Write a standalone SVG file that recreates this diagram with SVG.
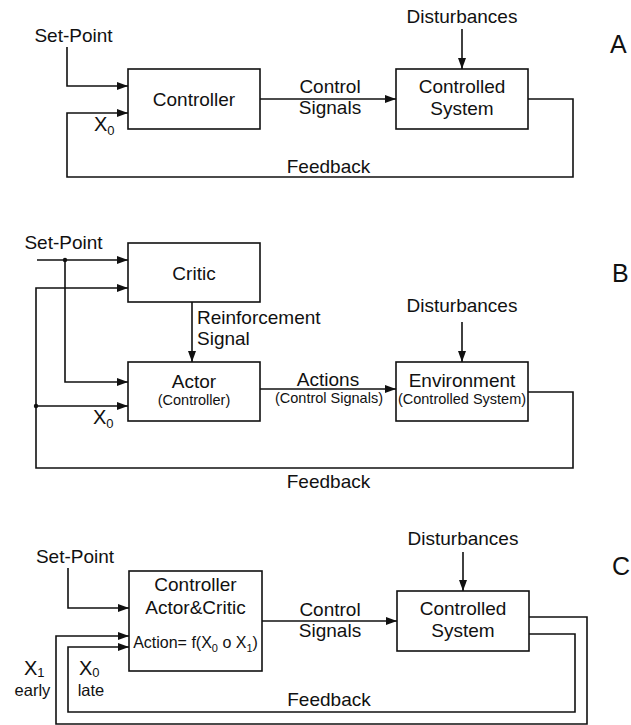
<svg xmlns="http://www.w3.org/2000/svg" width="631" height="725" viewBox="0 0 631 725">
<defs>
<marker id="ah" markerUnits="userSpaceOnUse" markerWidth="12" markerHeight="9" refX="11" refY="4" orient="auto">
<path d="M0,0 L11,4 L0,8 z" fill="#111"/>
</marker>
<style>
text{font-family:"Liberation Sans",Arial,Helvetica,sans-serif;fill:#111;font-size:19px}
.m{text-anchor:middle}
.s{font-size:14.5px}
.sub{font-size:13px}
.big{font-size:25px}
.x{font-size:20px}
rect{fill:#fff;stroke:#111;stroke-width:1.6}
.c line,.c polyline{fill:none;stroke:#111;stroke-width:1.6}
.a{marker-end:url(#ah)}
.dot{fill:#111}
</style>
</defs>
<rect x="0" y="0" width="631" height="725" style="fill:#fff;stroke:none"/>

<g class="c" id="connectors">
<!-- A -->
<polyline class="a" points="67,47 67,86 128,86"/>
<line class="a" x1="260" y1="99" x2="396" y2="99"/>
<line class="a" x1="462" y1="29" x2="462" y2="69"/>
<polyline class="a" points="528,99 573,99 573,177 67,177 67,113 128,113"/>
<!-- B -->
<line class="a" x1="37" y1="260" x2="128" y2="260"/>
<polyline class="a" points="65,260 65,382 128,382"/>
<polyline class="a" points="528,392 573,392 573,468 36,468 36,288 128,288"/>
<line class="a" x1="36" y1="406" x2="128" y2="406"/>
<line class="a" x1="192" y1="302" x2="192" y2="362"/>
<line class="a" x1="260" y1="389" x2="396" y2="389"/>
<line class="a" x1="462" y1="322" x2="462" y2="362"/>
<circle class="dot" cx="65" cy="260" r="2.2"/>
<circle class="dot" cx="36" cy="406" r="2.2"/>
<!-- C -->
<polyline class="a" points="68,568 68,608 129,608"/>
<line class="a" x1="262" y1="621" x2="397" y2="621"/>
<line class="a" x1="463" y1="552" x2="463" y2="591"/>
<polyline class="a" points="529,634 575,634 575,712 68,712 68,647 129,647"/>
<polyline class="a" points="529,617 587,617 587,724 56,724 56,636 129,636"/>
</g>

<!-- Panel A -->
<g id="A-controller"><rect x="128" y="69" width="132" height="60"/><text class="m" x="194" y="106">Controller</text></g>
<g id="A-system"><rect x="396" y="69" width="132" height="60"/><text class="m" x="462" y="93">Controlled</text><text class="m" x="462" y="115">System</text></g>
<g id="A-labels">
<text class="m" x="73.5" y="42">Set-Point</text>
<text class="m" x="462" y="23">Disturbances</text>
<text class="m" x="330" y="93">Control</text>
<text class="m" x="330" y="114">Signals</text>
<text class="m" x="328.5" y="173">Feedback</text>
<text class="x" x="94" y="131">X<tspan class="sub" dy="4">0</tspan></text>
<text class="big" x="610" y="53">A</text>
</g>

<!-- Panel B -->
<g id="B-critic"><rect x="128" y="243" width="132" height="59"/><text class="m" x="194" y="280">Critic</text></g>
<g id="B-actor"><rect x="128" y="362" width="132" height="59"/><text class="m" x="194" y="388">Actor</text><text class="m s" x="194" y="405">(Controller)</text></g>
<g id="B-environment"><rect x="396" y="362" width="132" height="59"/><text class="m" x="462" y="387">Environment</text><text class="m s" x="462" y="404">(Controlled System)</text></g>
<g id="B-labels">
<text class="m" x="63.5" y="249">Set-Point</text>
<text x="197" y="324">Reinforcement</text>
<text x="197" y="345">Signal</text>
<text class="m" x="328" y="386">Actions</text>
<text class="m s" x="329" y="403">(Control Signals)</text>
<text class="m" x="462" y="312">Disturbances</text>
<text class="m" x="328.5" y="488">Feedback</text>
<text class="x" x="93" y="424">X<tspan class="sub" dy="4">0</tspan></text>
<text class="big" x="612" y="282">B</text>
</g>

<!-- Panel C -->
<g id="C-controller"><rect x="129" y="571" width="133" height="100"/>
<text class="m" x="195.5" y="591">Controller</text>
<text class="m" x="195.5" y="614">Actor&amp;Critic</text>
<text class="m" x="195.5" y="648" style="font-size:16px">Action= f(X<tspan style="font-size:11px" dy="4">0</tspan><tspan dy="-4"> o X</tspan><tspan style="font-size:11px" dy="4">1</tspan><tspan dy="-4">)</tspan></text>
</g>
<g id="C-system"><rect x="397" y="591" width="132" height="60"/><text class="m" x="463" y="615">Controlled</text><text class="m" x="463" y="637">System</text></g>
<g id="C-labels">
<text class="m" x="75" y="563">Set-Point</text>
<text class="m" x="463" y="545">Disturbances</text>
<text class="m" x="330" y="616">Control</text>
<text class="m" x="330" y="637">Signals</text>
<text class="m" x="329" y="706">Feedback</text>
<text class="x" x="24" y="675">X<tspan class="sub" dy="2">1</tspan></text>
<text class="m" x="32.5" y="696" style="font-size:16.5px">early</text>
<text class="x" x="79" y="675">X<tspan class="sub" dy="2">0</tspan></text>
<text class="m" x="91" y="696" style="font-size:16.5px">late</text>
<text class="big" x="612" y="575">C</text>
</g>
</svg>
